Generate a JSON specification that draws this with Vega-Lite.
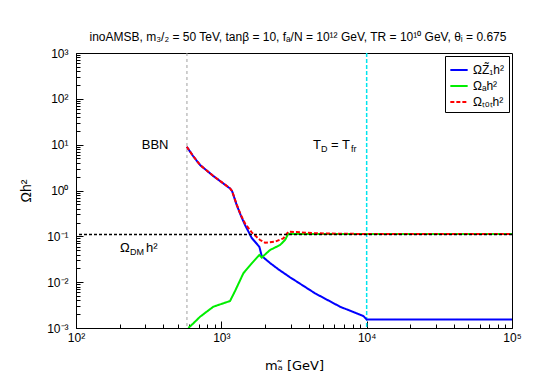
{
  "$schema": "https://vega.github.io/schema/vega-lite/v6.json",
  "width": 436,
  "height": 275,
  "autosize": {"type": "none"},
  "padding": {"left": 76, "top": 53, "right": 33, "bottom": 54},
  "background": "white",
  "config": {
    "view": {"stroke": "black", "strokeWidth": 1},
    "font": "Liberation Sans",
    "axis": {
      "grid": false,
      "domainColor": "black",
      "labelFont": "Liberation Sans",
      "labelFontSize": 12,
      "labelColor": "black",
      "titleFont": "Liberation Sans",
      "titleFontSize": 14,
      "titleFontWeight": "normal",
      "titleColor": "black",
      "labelFlush": false,
      "labelOverlap": false
    },
    "legend": {
      "orient": "top-right",
      "offset": 3,
      "strokeColor": "black",
      "fillColor": "white",
      "padding": 4,
      "symbolType": "stroke",
      "symbolSize": 300,
      "symbolStrokeWidth": 2,
      "labelFont": "Liberation Sans",
      "labelFontSize": 12,
      "labelColor": "black",
      "rowPadding": 0
    }
  },
  "title": {
    "text": "inoAMSB, m₃/₂ = 50 TeV, tanβ = 10, fₐ/N = 10¹² GeV, TR = 10¹⁰ GeV, θᵢ = 0.675",
    "font": "Liberation Sans",
    "fontSize": 12,
    "fontWeight": "normal",
    "color": "black",
    "anchor": "middle",
    "offset": 3,
    "dx": 4
  },
  "datasets": {
    "curves": [
      {"m": 578, "v": 9.03, "s": "ΩZ̃₁h²"},
      {"m": 639, "v": 5.66, "s": "ΩZ̃₁h²"},
      {"m": 714, "v": 3.60, "s": "ΩZ̃₁h²"},
      {"m": 881, "v": 2.07, "s": "ΩZ̃₁h²"},
      {"m": 1011, "v": 1.494, "s": "ΩZ̃₁h²"},
      {"m": 1148, "v": 1.105, "s": "ΩZ̃₁h²"},
      {"m": 1185, "v": 0.975, "s": "ΩZ̃₁h²"},
      {"m": 1276, "v": 0.482, "s": "ΩZ̃₁h²"},
      {"m": 1366, "v": 0.2775, "s": "ΩZ̃₁h²"},
      {"m": 1456, "v": 0.1766, "s": "ΩZ̃₁h²"},
      {"m": 1619, "v": 0.0919, "s": "ΩZ̃₁h²"},
      {"m": 1826, "v": 0.0593, "s": "ΩZ̃₁h²"},
      {"m": 1897, "v": 0.0372, "s": "ΩZ̃₁h²"},
      {"m": 2163, "v": 0.02617, "s": "ΩZ̃₁h²"},
      {"m": 2469, "v": 0.01907, "s": "ΩZ̃₁h²"},
      {"m": 2971, "v": 0.01276, "s": "ΩZ̃₁h²"},
      {"m": 4415, "v": 0.00571, "s": "ΩZ̃₁h²"},
      {"m": 6561, "v": 0.002912, "s": "ΩZ̃₁h²"},
      {"m": 9491, "v": 0.001826, "s": "ΩZ̃₁h²"},
      {"m": 10000, "v": 0.00153, "s": "ΩZ̃₁h²"},
      {"m": 100000, "v": 0.00153, "s": "ΩZ̃₁h²"},
      {"m": 593, "v": 0.001, "s": "Ωₐh²"},
      {"m": 642, "v": 0.001265, "s": "Ωₐh²"},
      {"m": 714, "v": 0.001762, "s": "Ωₐh²"},
      {"m": 881, "v": 0.002912, "s": "Ωₐh²"},
      {"m": 1148, "v": 0.003879, "s": "Ωₐh²"},
      {"m": 1243, "v": 0.00641, "s": "Ωₐh²"},
      {"m": 1417, "v": 0.0156, "s": "Ωₐh²"},
      {"m": 1619, "v": 0.02578, "s": "Ωₐh²"},
      {"m": 1826, "v": 0.03912, "s": "Ωₐh²"},
      {"m": 1897, "v": 0.03449, "s": "Ωₐh²"},
      {"m": 2163, "v": 0.05029, "s": "Ωₐh²"},
      {"m": 2535, "v": 0.06463, "s": "Ωₐh²"},
      {"m": 2744, "v": 0.08313, "s": "Ωₐh²"},
      {"m": 2891, "v": 0.1141, "s": "Ωₐh²"},
      {"m": 3000, "v": 0.112, "s": "Ωₐh²"},
      {"m": 100000, "v": 0.112, "s": "Ωₐh²"},
      {"m": 578, "v": 9.03, "s": "Ωₜₒₜh²"},
      {"m": 639, "v": 5.66, "s": "Ωₜₒₜh²"},
      {"m": 714, "v": 3.60, "s": "Ωₜₒₜh²"},
      {"m": 881, "v": 2.07, "s": "Ωₜₒₜh²"},
      {"m": 1011, "v": 1.50, "s": "Ωₜₒₜh²"},
      {"m": 1148, "v": 1.11, "s": "Ωₜₒₜh²"},
      {"m": 1185, "v": 0.98, "s": "Ωₜₒₜh²"},
      {"m": 1276, "v": 0.49, "s": "Ωₜₒₜh²"},
      {"m": 1366, "v": 0.288, "s": "Ωₜₒₜh²"},
      {"m": 1456, "v": 0.19, "s": "Ωₜₒₜh²"},
      {"m": 1619, "v": 0.122, "s": "Ωₜₒₜh²"},
      {"m": 1847, "v": 0.083, "s": "Ωₜₒₜh²"},
      {"m": 1999, "v": 0.0726, "s": "Ωₜₒₜh²"},
      {"m": 2342, "v": 0.0764, "s": "Ωₜₒₜh²"},
      {"m": 2672, "v": 0.0905, "s": "Ωₜₒₜh²"},
      {"m": 2891, "v": 0.126, "s": "Ωₜₒₜh²"},
      {"m": 3300, "v": 0.124, "s": "Ωₜₒₜh²"},
      {"m": 4415, "v": 0.117, "s": "Ωₜₒₜh²"},
      {"m": 6561, "v": 0.114, "s": "Ωₜₒₜh²"},
      {"m": 10000, "v": 0.1125, "s": "Ωₜₒₜh²"},
      {"m": 100000, "v": 0.1125, "s": "Ωₜₒₜh²"}
    ],
    "vlines": [
      {"m": 580, "k": "bbn"},
      {"m": 10000, "k": "fr"}
    ],
    "hlines": [
      {"v": 0.11}
    ],
    "notes": [
      {"id": "bbn", "m": 350, "v": 9.8},
      {"id": "dm", "m": 201, "v": 0.0556},
      {"id": "td", "m": 4276, "v": 9.83}
    ]
  },
  "layer": [
    {
      "data": {"name": "vlines"},
      "transform": [{"filter": "datum.k == 'bbn'"}],
      "mark": {"type": "rule", "color": "#a0a0a0", "strokeWidth": 1, "strokeDash": [3, 3]},
      "encoding": {
        "x": {"field": "m", "type": "quantitative", "scale": {"type": "log", "domain": [100, 100000], "nice": false}}
      }
    },
    {
      "data": {"name": "vlines"},
      "transform": [{"filter": "datum.k == 'fr'"}],
      "mark": {"type": "rule", "color": "#00e5ee", "strokeWidth": 1.5, "strokeDash": [4, 2]},
      "encoding": {
        "x": {"field": "m", "type": "quantitative", "scale": {"type": "log", "domain": [100, 100000], "nice": false}}
      }
    },
    {
      "data": {"name": "curves"},
      "mark": {"type": "line", "strokeWidth": 2, "clip": true},
      "encoding": {
        "x": {
          "field": "m", "type": "quantitative",
          "scale": {"type": "log", "domain": [100, 100000], "nice": false},
          "axis": {
            "title": "mₐ̃ [GeV]",
            "titleFont": "DejaVu Sans",
            "titleFontSize": 13,
            "titleY": 31,
            "titleBaseline": "top",
            "values": [100,200,300,400,500,600,700,800,900,1000,2000,3000,4000,5000,6000,7000,8000,9000,10000,20000,30000,40000,50000,60000,70000,80000,90000,100000],
            "labelExpr": "datum.value==100?'10²':datum.value==1000?'10³':datum.value==10000?'10⁴':datum.value==100000?'10⁵':''",
            "ticks": true,
            "tickColor": "black",
            "tickWidth": 1,
            "tickOpacity": 1,
            "tickSize": {"condition": {"test": "datum.value==100||datum.value==1000||datum.value==10000||datum.value==100000", "value": -7}, "value": -4},
            "labelPadding": 11
          }
        },
        "y": {
          "field": "v", "type": "quantitative",
          "scale": {"type": "log", "domain": [0.001, 1000], "nice": false},
          "axis": {
            "title": "Ωh²",
            "titleX": -50,
            "titleBaseline": "middle",
            "values": [0.001,0.002,0.003,0.004,0.005,0.006,0.007,0.008,0.009,0.01,0.02,0.03,0.04,0.05,0.06,0.07,0.08,0.09,0.1,0.2,0.3,0.4,0.5,0.6,0.7,0.8,0.9,1,2,3,4,5,6,7,8,9,10,20,30,40,50,60,70,80,90,100,200,300,400,500,600,700,800,900,1000],
            "labelExpr": "datum.value==0.001?'10⁻³':datum.value==0.01?'10⁻²':datum.value==0.1?'10⁻¹':datum.value==1?'10⁰':datum.value==10?'10¹':datum.value==100?'10²':datum.value==1000?'10³':''",
            "ticks": true,
            "tickColor": "black",
            "tickWidth": 1,
            "tickOpacity": 1,
            "tickSize": {"condition": {"test": "datum.value==0.001||datum.value==0.01||datum.value==0.1||datum.value==1||datum.value==10||datum.value==100||datum.value==1000", "value": -7}, "value": -4},
            "labelPadding": 15
          }
        },
        "color": {
          "field": "s", "type": "nominal", "title": null,
          "scale": {"domain": ["ΩZ̃₁h²", "Ωₐh²", "Ωₜₒₜh²"], "range": ["#0000ff", "#00ee00", "#ff0000"]},
          "sort": null
        },
        "strokeDash": {
          "field": "s", "type": "nominal", "title": null,
          "scale": {"domain": ["ΩZ̃₁h²", "Ωₐh²", "Ωₜₒₜh²"], "range": [[1, 0], [1, 0], [4, 2]]},
          "sort": null
        }
      }
    },
    {
      "data": {"name": "hlines"},
      "mark": {"type": "rule", "color": "black", "strokeWidth": 1.5, "strokeDash": [3, 2]},
      "encoding": {
        "y": {"field": "v", "type": "quantitative", "scale": {"type": "log", "domain": [0.001, 1000], "nice": false}}
      }
    },
    {
      "data": {"name": "notes"},
      "transform": [{"filter": "datum.id == 'bbn'"}],
      "mark": {"type": "text", "text": "BBN", "font": "Liberation Sans", "fontSize": 13, "color": "black", "align": "center", "baseline": "middle"},
      "encoding": {
        "x": {"field": "m", "type": "quantitative", "scale": {"type": "log", "domain": [100, 100000], "nice": false}},
        "y": {"field": "v", "type": "quantitative", "scale": {"type": "log", "domain": [0.001, 1000], "nice": false}}
      }
    },
    {
      "data": {"name": "notes"},
      "transform": [{"filter": "datum.id == 'dm'"}],
      "mark": {"type": "text", "text": "Ω", "font": "Liberation Sans", "fontSize": 13, "color": "black", "align": "left", "baseline": "middle", "dx": 0},
      "encoding": {
        "x": {"field": "m", "type": "quantitative", "scale": {"type": "log", "domain": [100, 100000], "nice": false}},
        "y": {"field": "v", "type": "quantitative", "scale": {"type": "log", "domain": [0.001, 1000], "nice": false}}
      }
    },
    {
      "data": {"name": "notes"},
      "transform": [{"filter": "datum.id == 'dm'"}],
      "mark": {"type": "text", "text": "DM", "font": "Liberation Sans", "fontSize": 9, "color": "black", "align": "left", "baseline": "middle", "dx": 10, "dy": 4},
      "encoding": {
        "x": {"field": "m", "type": "quantitative", "scale": {"type": "log", "domain": [100, 100000], "nice": false}},
        "y": {"field": "v", "type": "quantitative", "scale": {"type": "log", "domain": [0.001, 1000], "nice": false}}
      }
    },
    {
      "data": {"name": "notes"},
      "transform": [{"filter": "datum.id == 'dm'"}],
      "mark": {"type": "text", "text": "h²", "font": "Liberation Sans", "fontSize": 13, "color": "black", "align": "left", "baseline": "middle", "dx": 26},
      "encoding": {
        "x": {"field": "m", "type": "quantitative", "scale": {"type": "log", "domain": [100, 100000], "nice": false}},
        "y": {"field": "v", "type": "quantitative", "scale": {"type": "log", "domain": [0.001, 1000], "nice": false}}
      }
    },
    {
      "data": {"name": "notes"},
      "transform": [{"filter": "datum.id == 'td'"}],
      "mark": {"type": "text", "text": "T", "font": "Liberation Sans", "fontSize": 13, "color": "black", "align": "left", "baseline": "middle", "dx": 0},
      "encoding": {
        "x": {"field": "m", "type": "quantitative", "scale": {"type": "log", "domain": [100, 100000], "nice": false}},
        "y": {"field": "v", "type": "quantitative", "scale": {"type": "log", "domain": [0.001, 1000], "nice": false}}
      }
    },
    {
      "data": {"name": "notes"},
      "transform": [{"filter": "datum.id == 'td'"}],
      "mark": {"type": "text", "text": "D", "font": "Liberation Sans", "fontSize": 9, "color": "black", "align": "left", "baseline": "middle", "dx": 8, "dy": 4},
      "encoding": {
        "x": {"field": "m", "type": "quantitative", "scale": {"type": "log", "domain": [100, 100000], "nice": false}},
        "y": {"field": "v", "type": "quantitative", "scale": {"type": "log", "domain": [0.001, 1000], "nice": false}}
      }
    },
    {
      "data": {"name": "notes"},
      "transform": [{"filter": "datum.id == 'td'"}],
      "mark": {"type": "text", "text": "= T", "font": "Liberation Sans", "fontSize": 13, "color": "black", "align": "left", "baseline": "middle", "dx": 18},
      "encoding": {
        "x": {"field": "m", "type": "quantitative", "scale": {"type": "log", "domain": [100, 100000], "nice": false}},
        "y": {"field": "v", "type": "quantitative", "scale": {"type": "log", "domain": [0.001, 1000], "nice": false}}
      }
    },
    {
      "data": {"name": "notes"},
      "transform": [{"filter": "datum.id == 'td'"}],
      "mark": {"type": "text", "text": "fr", "font": "Liberation Sans", "fontSize": 9, "color": "black", "align": "left", "baseline": "middle", "dx": 38, "dy": 4},
      "encoding": {
        "x": {"field": "m", "type": "quantitative", "scale": {"type": "log", "domain": [100, 100000], "nice": false}},
        "y": {"field": "v", "type": "quantitative", "scale": {"type": "log", "domain": [0.001, 1000], "nice": false}}
      }
    }
  ]
}
